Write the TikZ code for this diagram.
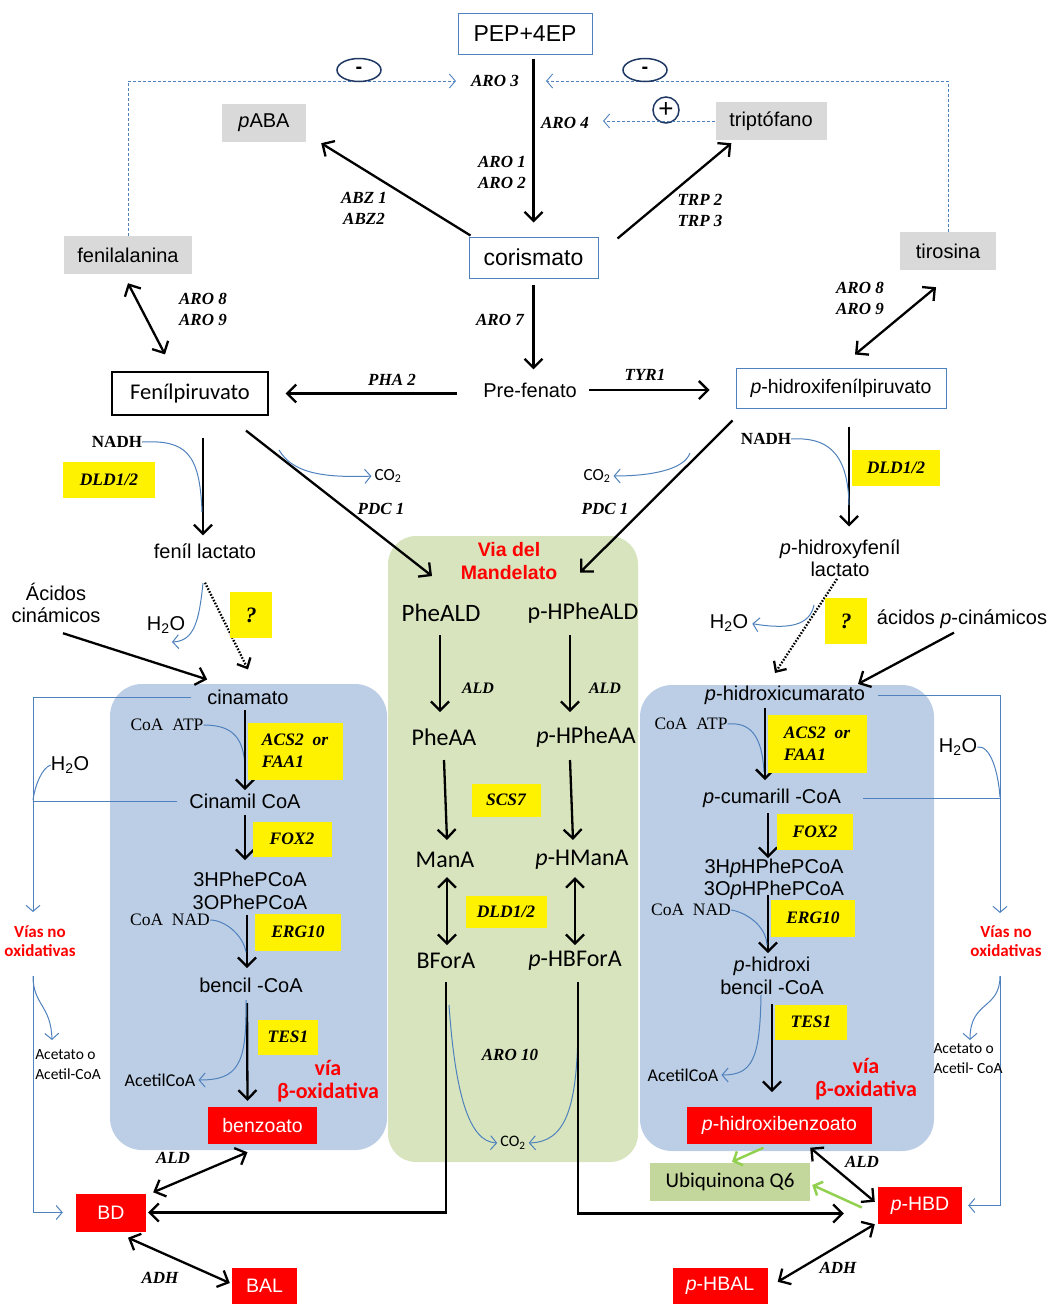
\documentclass[tikz,border=0pt]{standalone}
\usepackage{fontspec}
\setmainfont{Liberation Sans}
\newfontfamily\tnr{Liberation Serif}
\newfontfamily\cbr{Carlito}
\usetikzlibrary{arrows.meta,calc,shapes.geometric}
\definecolor{lnblue}{RGB}{79,129,189}
\definecolor{navyc}{RGB}{31,56,100}
\definecolor{bxblue}{RGB}{188,206,229}
\definecolor{bxgreen}{RGB}{215,228,189}
\definecolor{ubgreen}{RGB}{195,214,155}
\definecolor{gbox}{RGB}{217,217,217}
\definecolor{lgreen}{RGB}{146,208,80}
\definecolor{redc}{RGB}{255,0,0}
\newcommand\fz[2]{\fontsize{#1}{#2}\selectfont}
\tikzset{
  lbl/.style={inner sep=0pt, font=\fz{20}{22.5}, align=center},
  enz/.style={inner sep=0pt, font=\tnr\bfseries\itshape\fz{17}{21}, align=center},
  ser/.style={inner sep=0pt, font=\tnr\fz{17.5}{19}},
  cal/.style={inner sep=0pt, font=\cbr\fz{24}{26}},
  ybox/.style={fill=yellow, inner sep=0pt, font=\tnr\bfseries\itshape\fz{17.5}{22}, align=center},
  gbx/.style={fill=gbox, inner sep=0pt, font=\fz{20}{24}},
  rbox/.style={fill=redc, text=white, inner sep=0pt, font=\fz{19.5}{24}},
  rtx/.style={inner sep=0pt, text=redc, align=center},
  ar/.style={line width=2.3pt, -{Straight Barb[length=9pt,width=18pt]}},
  dar/.style={line width=2.3pt, {Straight Barb[length=9pt,width=18pt]}-{Straight Barb[length=9pt,width=18pt]}},
  bl/.style={draw=lnblue, line width=1pt},
  bar/.style={draw=lnblue, line width=1pt, -{Straight Barb[length=6pt,width=14pt]}},
  fb/.style={draw=lnblue, line width=0.9pt, dash pattern=on 3pt off 2pt, -{Straight Barb[length=6pt,width=14pt]}},
  garr/.style={draw=lgreen, line width=2.5pt, -{Straight Barb[length=7pt,width=15pt]}},
  dots/.style={line width=2.3pt, dash pattern=on 1.6pt off 1.6pt, -{Straight Barb[length=8pt,width=15pt]}},
}
\begin{document}
\begin{tikzpicture}[x=1pt,y=-1pt]
\useasboundingbox (0,0) rectangle (1047,1304);
% ---------- backgrounds
\node[fill=bxgreen, rounded corners=28pt, minimum width=250pt, minimum height=626pt, inner sep=0] (mbg) at (513,849) {};
\node[fill=bxblue, rounded corners=32pt, minimum width=277pt, minimum height=466pt, inner sep=0] (lbg) at (248.5,917) {};
\node[fill=bxblue, rounded corners=32pt, minimum width=294pt, minimum height=466pt, inner sep=0] (rbg) at (787,918) {};

% ---------- top
\node[draw=lnblue, line width=1pt, minimum width=134pt, minimum height=41pt, font=\fz{23}{27}, inner sep=0] (pep) at (525,33.5) {PEP+4EP};
\node[draw=lnblue, line width=1pt, minimum width=129pt, minimum height=41pt, font=\fz{23}{27}, inner sep=0] (cor) at (533.5,257.5) {corismato};
\node[gbx, minimum width=84pt, minimum height=38pt] (paba) at (264,123) {\textit{p}ABA};
\node[gbx, minimum width=111pt, minimum height=38pt] (trp) at (771,121) {triptófano};
\node[gbx, minimum width=128pt, minimum height=38pt] (phe) at (128,255) {fenilalanina};
\node[gbx, minimum width=96pt, minimum height=38pt] (tyr) at (948,251) {tirosina};
\node[enz] (aro3) at (495,81) {ARO 3};
\node[enz] (aro4) at (565,123) {ARO 4};
\node[enz, align=right] (aro12) at (502,172) {ARO 1\\ARO 2};
\draw[ar, shorten <=4pt, shorten >=14pt] (pep.south -| cor.north) -- (cor.north);

\draw[fb, shorten >=15pt] (phe.north) |- (aro3.west);
\coordinate (fbR) at (546,81);
\draw[fb] (tyr.north) |- (fbR);
\node[ellipse, draw=navyc, line width=1.5pt, minimum width=44pt, minimum height=23pt, inner sep=0, font=\bfseries\fz{20}{20}] (mA) at (359,70) {-};
\node[ellipse, draw=navyc, line width=1.5pt, minimum width=44pt, minimum height=23pt, inner sep=0, font=\bfseries\fz{20}{20}] (mB) at (645,70) {-};
\node[circle, draw=navyc, line width=1.5pt, minimum size=26pt, inner sep=0, font=\fz{26}{26}] (pl) at (666,110) {+};
\draw[fb, shorten >=14pt] (trp.west) -- (trp.west -| aro4.east);

\draw[ar] ($(cor.north west)+(2,-1)$) -- ($(paba.south east)+(15,1)$);
\node[enz] (abz) at (364,208) {ABZ 1\\ABZ2};
\draw[ar] ($(cor.north east)+(19,2)$) -- ($(trp.south west)+(16,3)$);
\node[enz] (trpl) at (700,210) {TRP 2\\TRP 3};

% ---------- second level
\node[draw=black, line width=1.2pt, minimum width=156pt, minimum height=43pt, font=\cbr\fz{22.5}{25}, inner sep=0] (fpir) at (190,393.5) {Fenílpiruvato};
\node[draw=lnblue, line width=1pt, minimum width=210pt, minimum height=40pt, font=\fz{19.5}{23}, inner sep=0] (hpir) at (841,388) {\textit{p}-hidroxifenílpiruvato};
\node[lbl] (pre) at (530,390) {Pre-fenato};

\draw[dar] ($(phe.south)+(0,9)$) -- ($(fpir.north)+(-25,-17)$);
\node[enz] (a89L) at (203,309) {ARO 8\\ARO 9};
\draw[dar] ($(tyr.south)+(-12,17)$) -- ($(hpir.north)+(14,-13)$);
\node[enz] (a89R) at (860,298) {ARO 8\\ARO 9};

\draw[ar, shorten <=6pt, shorten >=13pt] (cor.south) -- (cor.south |- pre.north);
\node[enz] (aro7) at (500,320) {ARO 7};
\draw[ar, shorten <=26pt, shorten >=17pt] (pre.west |- fpir.east) -- (fpir.east);
\node[enz] (pha2) at (392,380) {PHA 2};
\draw[ar, shorten <=12pt, shorten >=26pt] (pre.east) -- (pre.east -| hpir.west);
\node[enz] (tyr1) at (645,375) {TYR1};

% ---------- left lactate branch
\node[inner sep=0, font=\tnr\bfseries\fz{17}{20}] (nadhL) at (117,442) {NADH};
\node[lbl] (flac) at (205,551) {feníl lactato};
\draw[ar] ($(fpir.south)+(13,22)$) -- ($(flac.north)+(-2,-8)$);
\draw[bl] (nadhL.east) .. controls (185,440) and (200,452) .. (202,512);
\node[ybox, minimum width=92pt, minimum height=36pt] (dldL) at (109,480) {DLD1/2};

% ---------- right lactate branch
\node[inner sep=0, font=\tnr\bfseries\fz{17}{20}] (nadhR) at (766,439) {NADH};
\node[lbl] (hlac) at (840,558) {\textit{p}-hidroxyfeníl\\lactato};
\draw[ar] ($(hpir.south)+(8,18)$) -- ($(hpir.south)+(8,118)$);
\draw[bl] (nadhR.east) .. controls (825,437) and (848,450) .. (849,505);
\node[ybox, minimum width=88pt, minimum height=36pt] (dldR) at (896,468) {DLD1/2};

% ---------- Mandelate
\node[rtx, font=\bfseries\fz{19.5}{23}] (mtit) at (509,561) {Via del\\Mandelato};
\node[cal, font=\cbr\fz{25}{26}] (pheald) at (441,613) {PheALD};
\node[cal] (hpheald) at (583,613) {p-HPheALD};
\node[cal] (pheaa) at (444,737) {PheAA};
\node[cal] (hpheaa) at (586,737) {\textit{p}-HPheAA};
\node[cal] (mana) at (445,860) {ManA};
\node[cal] (hmana) at (582,860) {\textit{p}-HManA};
\node[cal] (bfor) at (446,961) {BForA};
\node[cal] (hbfor) at (575,961) {\textit{p}-HBForA};

\draw[ar] ($(fpir.south)+(56,15)$) -- ($(pheald.north)+(-9,-28)$);
\draw[ar] ($(hpir.south west)+(-3,12)$) -- ($(hpheald.north)+(-3,-30)$);
\node[inner sep=0, font=\cbr\fz{17}{20}] (co2L) at (388,476) {CO\textsubscript{2}};
\node[inner sep=0, font=\cbr\fz{17}{20}] (co2R) at (597,476) {CO\textsubscript{2}};
\coordinate (cL1) at (279,450);
\coordinate (cR1) at (690,453);
\draw[bar, shorten >=3pt] (cL1) .. controls (292,472) and (320,478) .. (co2L.west);
\draw[bar, shorten >=3pt] (cR1) .. controls (684,470) and (650,476) .. (co2R.east);
\node[enz] (pdcL) at (381,509) {PDC 1};
\node[enz] (pdcR) at (605,509) {PDC 1};

\draw[ar] ($(pheald)+(-1,22)$) -- ($(pheald)+(-1,99)$);
\draw[ar] ($(hpheald)+(-13,22)$) -- ($(hpheald)+(-13,99)$);
\node[enz, font=\tnr\bfseries\itshape\fz{16}{20}] (aldA) at (478,688) {ALD};
\node[enz, font=\tnr\bfseries\itshape\fz{16}{20}] (aldB) at (605,688) {ALD};
\draw[ar] ($(pheaa)+(0,23)$) -- ($(pheaa)+(3,103)$);
\draw[ar] ($(hpheaa)+(-16,23)$) -- ($(hpheaa)+(-13,103)$);
\node[ybox, minimum width=69pt, minimum height=33pt] (scs7) at (506,800) {SCS7};
\draw[dar] ($(mana)+(2,17)$) -- ($(mana)+(2,85)$);
\draw[dar] ($(hmana)+(-7,17)$) -- ($(hmana)+(-7,85)$);
\node[ybox, minimum width=81pt, minimum height=32pt] (dldM) at (506,912) {DLD1/2};
\node[enz] (aro10) at (510,1055) {ARO 10};
\node[inner sep=0, font=\cbr\fz{16}{20}] (co2M) at (513,1143) {CO\textsubscript{2}};
\coordinate (cM1) at (449,1005);
\coordinate (cM2) at (578,1020);
\draw[bar, shorten >=3pt] (cM1) .. controls (455,1090) and (468,1142) .. (co2M.west);
\draw[bar, shorten >=3pt] (cM2) .. controls (578,1110) and (565,1142) .. (co2M.east);

% ---------- left beta oxidation
\node[lbl] (acL) at (56,603) {Ácidos\\cinámicos};
\node[lbl] (cin) at (248,697) {cinamato};
\draw[ar] ($(acL.south)+(7,10)$) -- ($(cin.north west)+(0,-10)$);
\draw[dots] ($(flac.south)+(0,24)$) -- ($(cin.north)+(0,-20)$);
\node[ybox, minimum width=42pt, minimum height=46pt, font=\tnr\bfseries\itshape\fz{22}{22}] (qL) at (251,615) {?};
\node[lbl] (h2oA) at (166,625) {H\textsubscript{2}O};
\coordinate (cL2) at (203,583);
\coordinate (cL2e) at (172,642);
\draw[bar] (cL2) .. controls (199,622) and (194,641) .. (cL2e);

\coordinate (vL) at (33,912);
\draw[bar] ($(cin.west)+(-16,0)$) -| (vL);
\node[lbl] (cinc) at (245,801) {Cinamil CoA};
\draw[bl] ($(cinc.west)+(-12,0)$) -- (cinc.west -| vL);
\node[lbl] (h2oB) at (70,765) {H\textsubscript{2}O};
\draw[bl] (h2oB.west) .. controls (42,768) and (35,785) .. (33,800);
\node[ser] (catpL) at (167,725) {CoA\ \ ATP};
\draw[bl] (catpL.east) .. controls (235,725) and (243,740) .. (245,765);
\draw[ar] ($(cinc)+(0,-91)$) -- ($(cinc)+(0,-11)$);
\node[ybox, minimum width=95pt, minimum height=57pt, align=left] (acsL) at (295,751) {ACS2\ \ or\\FAA1};
\draw[ar] ($(cinc)+(0,14)$) -- ($(cinc)+(0,59)$);
\node[ybox, minimum width=79pt, minimum height=35pt] (foxL) at (292,839) {FOX2};
\node[lbl] (hphL) at (250,891) {3HPhePCoA\\3OPhePCoA};
\node[ser] (cnadL) at (170,920) {CoA\ \ NAD};
\node[lbl] (bcoaL) at (251,985) {bencil -CoA};
\draw[ar] ($(bcoaL)+(-4,-70)$) -- ($(bcoaL)+(-4,-17)$);
\draw[bl] (cnadL.east) .. controls (225,920) and (243,935) .. (246,952);
\node[ybox, minimum width=86pt, minimum height=37pt] (ergL) at (298,932) {ERG10};
\node[rbox, minimum width=109pt, minimum height=37pt] (bzo) at (262.5,1125.5) {benzoato};
\draw[ar] ($(bcoaL)+(-4,18)$) -- ($(bzo.north)+(-15,-6)$);
\node[ybox, minimum width=60pt, minimum height=35pt] (tesL) at (288,1037) {TES1};
\node[inner sep=0, font=\cbr\fz{18}{20}] (acetL) at (160,1080) {AcetilCoA};
\coordinate (cL3) at (246,1000);
\draw[bar, shorten >=3pt] (cL3) .. controls (247,1065) and (238,1080) .. (acetL.east);
\node[rtx, font=\cbr\bfseries\fz{22}{23}] (voxL) at (328,1081) {vía\\β-oxidativa};
\node[rtx, font=\cbr\bfseries\fz{17}{19}] (vnoL) at (40,941) {Vías no\\oxidativas};
\coordinate (vL2) at (33,976);
\node[rbox, minimum width=70pt, minimum height=38pt] (bd) at (111,1212.5) {BD};
\draw[bar] (vL2) |- ($(bd.west)+(-13,0)$);
\draw[bar] (vL2) .. controls (33,1005) and (51,1005) .. (52,1040);
\node[inner sep=0, font=\cbr\fz{15.5}{20}, align=left] (acetoL) at (68,1065) {Acetato o\\Acetil-CoA};
\node[rbox, minimum width=65pt, minimum height=36pt] (bal) at (264.5,1286) {BAL};
\draw[dar] ($(bd.north east)+(7,-1)$) -- ($(bzo.south)+(-15,8)$);
\node[enz] (aldL) at (173,1158) {ALD};
\draw[dar] ($(bd.south)+(17,6)$) -- ($(bal.west)+(-2,-3)$);
\node[enz] (adhL) at (160,1278) {ADH};

% ---------- right beta oxidation
\node[lbl] (hcum) at (785,695) {\textit{p}-hidroxicumarato};
\node[lbl] (acR) at (962,619) {ácidos \textit{p}-cinámicos};
\draw[ar] ($(acR.south)+(-8,4)$) -- ($(hcum)+(73,-11)$);
\draw[dots] ($(hlac.south)+(-3,2)$) -- ($(hcum)+(-10,-22)$);
\node[ybox, minimum width=42pt, minimum height=46pt, font=\tnr\bfseries\itshape\fz{22}{22}] (qR) at (846,621) {?};
\node[lbl] (h2oC) at (729,623) {H\textsubscript{2}O};
\coordinate (cR2) at (814,605);
\draw[bar, shorten >=4pt] (cR2) .. controls (810,625) and (790,630) .. (h2oC.east);

\coordinate (vR) at (1000,913);
\draw[bar] ($(hcum)+(93,0)$) -| (vR);
\node[lbl] (hcoa) at (772,798) {\textit{p}-cumarill -CoA};
\draw[bl] ($(hcoa)+(91,0)$) -- (hcoa -| vR);
\node[lbl] (h2oD) at (958,747) {H\textsubscript{2}O};
\draw[bl] (h2oD.east) .. controls (990,745) and (998,770) .. (1000,797);
\node[ser] (catpR) at (691,724) {CoA\ \ ATP};
\draw[bl] (catpR.east) .. controls (750,722) and (762,735) .. (764,772);
\draw[ar] ($(hcum)+(-20,13)$) -- ($(hcum)+(-20,85)$);
\node[ybox, minimum width=99pt, minimum height=58pt, align=left] (acsR) at (817,744) {ACS2\ \ or\\FAA1};
\draw[ar] ($(hcoa)+(-4,15)$) -- ($(hcoa)+(-4,60)$);
\node[ybox, minimum width=76pt, minimum height=36pt] (foxR) at (815,832) {FOX2};
\node[lbl, font=\fz{20}{22}] (hphR) at (774,879) {3H\textit{p}HPhePCoA\\3O\textit{p}HPhePCoA};
\node[ser] (cnadR) at (691,910) {CoA\ \ NAD};
\draw[ar] ($(hphR)+(-6,16)$) -- ($(hphR)+(-6,74)$);
\draw[bl] (cnadR.east) .. controls (745,912) and (766,925) .. (767,945);
\node[ybox, minimum width=84pt, minimum height=37pt] (ergR) at (813,918) {ERG10};
\node[lbl] (hbcR) at (772,976) {\textit{p}-hidroxi\\bencil -CoA};
\node[rbox, minimum width=185pt, minimum height=37pt] (hbzo) at (779.5,1125) {\textit{p}-hidroxibenzoato};
\draw[ar] ($(hbcR)+(0,28)$) -- ($(hbcR)+(0,116)$);
\node[ybox, minimum width=72pt, minimum height=35pt] (tesR) at (811,1022) {TES1};
\node[inner sep=0, font=\cbr\fz{18}{20}] (acetR) at (683,1075) {AcetilCoA};
\coordinate (cR3) at (761,995);
\draw[bar, shorten >=3pt] (cR3) .. controls (760,1060) and (752,1075) .. (acetR.east);
\node[rtx, font=\cbr\bfseries\fz{22}{23}] (voxR) at (866,1079) {vía\\β-oxidativa};
\node[rtx, font=\cbr\bfseries\fz{17}{19}] (vnoR) at (1006,941) {Vías no\\oxidativas};
\node[rbox, minimum width=84pt, minimum height=37pt] (hbd) at (920,1205.5) {\textit{p}-HBD};
\coordinate (vR2) at (1000,976);
\draw[bar] (vR2) |- ($(hbd.east)+(6,0)$);
\draw[bar] (vR2) .. controls (1000,1010) and (970,1000) .. (970,1040);
\node[inner sep=0, font=\cbr\fz{15.5}{20}, align=left] (acetoR) at (968,1059) {Acetato o\\Acetil- CoA};
\node[fill=ubgreen, minimum width=160pt, minimum height=38pt, inner sep=0, font=\cbr\fz{21}{24}] (ubq) at (730,1182) {Ubiquinona Q6};
\draw[garr] ($(hbzo.south)+(-16,4)$) -- ($(ubq.north)+(2,-1)$);
\draw[garr] ($(hbd.west)+(-16,2)$) -- ($(ubq.east)+(2,3)$);
\node[rbox, minimum width=95pt, minimum height=36pt] (hbal) at (720,1286) {\textit{p}-HBAL};
\draw[dar] ($(hbzo.south east)+(-62,4)$) -- ($(hbd.north west)+(-3,15)$);
\node[enz] (aldR) at (862,1162) {ALD};
\draw[dar] ($(hbd.south west)+(-3,0)$) -- ($(hbal.north east)+(10,14)$);
\node[enz] (adhR) at (838,1268) {ADH};

% ---------- long connectors from mandelate
\draw[ar, shorten >=2pt] ($(bfor)+(0,21)$) |- (bd.east);
\draw[ar] ($(hbfor)+(3,21)$) |- ($(hbd.west)+(-34,8)$);
\end{tikzpicture}
\end{document}
